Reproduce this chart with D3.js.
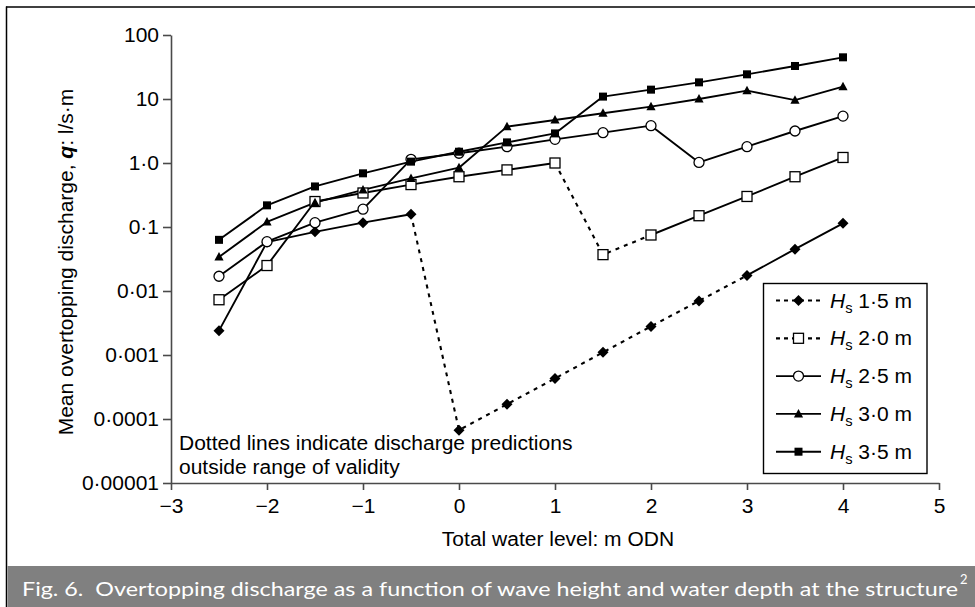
<!DOCTYPE html>
<html><head><meta charset="utf-8">
<script src="https://cdn.jsdelivr.net/npm/d3@7"></script>
<style>body{margin:0;background:#fff} svg{display:block}</style>
</head><body>
<svg id="c" width="975" height="607"></svg>
<script>
// ---- data ----
const levels = [-2.5,-2,-1.5,-1,-0.5,0,0.5,1,1.5,2,2.5,3,3.5,4];
const hs15 = [0.0024,0.058,0.084,0.117,0.158,0.000067,0.00017,0.00043,0.0011,0.0028,0.007,0.0175,0.045,0.114];
const hs20 = [0.0073,0.025,0.25,0.34,0.46,0.61,0.78,1.0,0.037,0.075,0.15,0.30,0.61,1.22];
const hs25 = [0.017,0.059,0.117,0.19,1.14,1.42,1.8,2.34,2.98,3.83,1.02,1.8,3.16,5.4];
const hs30 = [0.034,0.12,0.24,0.38,0.575,0.845,3.7,4.7,6.0,7.6,10.0,13.5,9.6,15.6];
const hs35 = [0.063,0.218,0.43,0.69,1.05,1.5,2.1,2.9,10.9,14.0,18.2,24.3,32.8,44.8];
const seriesLabels = ["1·5 m","2·0 m","2·5 m","3·0 m","3·5 m"];
// index range (in levels) of each series that lies outside the range of validity
const outsideRange = [[4,11],[7,9],null,null,null];
const xTicks = [-3,-2,-1,0,1,2,3,4,5];
const yTicks = [1e-5,1e-4,1e-3,1e-2,1e-1,1,10,100];
const yTickLabels = ["0·00001","0·0001","0·001","0·01","0·1","1·0","10","100"];
const xTitle = "Total water level: m ODN";
const noteLines = ["Dotted lines indicate discharge predictions","outside range of validity"];
const captionText = "Fig. 6.  Overtopping discharge as a function of wave height and water depth at the structure";

// ---- drawing ----
const svg = d3.select("#c");
const FONT = "'Liberation Sans', Arial, sans-serif";
const FS = 20;
const x = d3.scaleLinear().domain([-3,5]).range([171,939]);
const y = d3.scaleLog().domain([1e-5,100]).range([483,35]);
const axisColor = "#4a4a4a";

// frame
svg.append("line").attr("x1",6).attr("x2",975).attr("y1",7).attr("y2",7).attr("stroke","#000").attr("stroke-width",1.5);
svg.append("line").attr("x1",6.5).attr("x2",6.5).attr("y1",6.5).attr("y2",607).attr("stroke","#000").attr("stroke-width",1.5);

// caption band
svg.append("rect").attr("x",7.5).attr("y",566).attr("width",968).attr("height",41).attr("fill","#808080");
const cap = svg.append("text").attr("x",22).attr("y",596).attr("fill","#fff")
  .attr("font-family","Lato, 'Open Sans', sans-serif").attr("font-size",20)
  .attr("xml:space","preserve").style("white-space","pre").text(captionText);
cap.attr("textLength",936).attr("lengthAdjust","spacingAndGlyphs");
svg.append("text").attr("x",960).attr("y",584).attr("fill","#fff")
  .attr("font-family","Lato, 'Open Sans', sans-serif").attr("font-size",13).text("2");

// axes
const gx = svg.append("g").attr("transform","translate(0,483)")
  .call(d3.axisBottom(x).tickValues(xTicks).tickSize(7).tickSizeOuter(0).tickPadding(9).tickFormat(d3.format("d")));
const gy = svg.append("g").attr("transform","translate(171,0)")
  .call(d3.axisLeft(y).tickValues(yTicks).tickSize(8).tickSizeOuter(0).tickPadding(4).tickFormat((d,i)=>yTickLabels[i]));
[gx,gy].forEach(g=>{
  g.attr("font-family",FONT).attr("font-size",FS);
  g.select(".domain").attr("stroke",axisColor).attr("stroke-width",1.6);
  g.selectAll(".tick line").attr("stroke",axisColor).attr("stroke-width",1.6);
  g.selectAll(".tick text").attr("fill","#000").classed("st",true);
});

// series
const data = [hs15,hs20,hs25,hs30,hs35];
const symbols = ["diamond","openSquare","circle","triangle","square"];
const line = d3.line().x(d=>x(d[0])).y(d=>y(d[1]));
function markerPath(g, type){
  if(type==="diamond") g.append("path").attr("d","M0,-5.5L5.5,0L0,5.5L-5.5,0Z").attr("fill","#000");
  else if(type==="openSquare") g.append("rect").attr("x",-5).attr("y",-5).attr("width",10).attr("height",10).attr("fill","#fff").attr("stroke","#000").attr("stroke-width",1.3);
  else if(type==="circle") g.append("circle").attr("r",5).attr("fill","#fff").attr("stroke","#000").attr("stroke-width",1.3);
  else if(type==="triangle") g.append("path").attr("d","M0,-5L4.6,3.5L-4.6,3.5Z").attr("fill","#000");
  else g.append("rect").attr("x",-4).attr("y",-4).attr("width",8).attr("height",8).attr("fill","#000");
}
const linesG = svg.append("g");
const marksG = svg.append("g");
data.forEach((vals,si)=>{
  const pts = levels.map((l,i)=>[l,vals[i]]);
  const r = outsideRange[si];
  let parts;
  if(r){
    parts = [{p:pts.slice(0,r[0]+1),dot:false},{p:pts.slice(r[0],r[1]+1),dot:true},{p:pts.slice(r[1]),dot:false}];
  } else parts = [{p:pts,dot:false}];
  parts.forEach(pt=>{
    if(pt.p.length<2) return;
    const pth = linesG.append("path").attr("d",line(pt.p)).attr("fill","none").attr("stroke","#000")
      .attr("stroke-width",pt.dot?2.1:1.9).attr("stroke-linejoin","round");
    if(pt.dot) pth.attr("stroke-dasharray","4,5");
  });
  pts.forEach(d=>{
    const g = marksG.append("g").attr("transform",`translate(${x(d[0])},${y(d[1])})`);
    markerPath(g, symbols[si]);
  });
});

// legend
const lg = svg.append("g");
lg.append("rect").attr("x",763.5).attr("y",283.5).attr("width",163.5).attr("height",190)
  .attr("fill","#fff").attr("stroke","#000").attr("stroke-width",1.4);
seriesLabels.forEach((lab,i)=>{
  const cy = 300.5 + i*37.8;
  const dotted = !!outsideRange[i];
  const l = lg.append("line").attr("x1",776).attr("x2",821).attr("y1",cy).attr("y2",cy)
    .attr("stroke","#000").attr("stroke-width",dotted?2.2:1.9);
  if(dotted) l.attr("stroke-dasharray","4,4");
  markerPath(lg.append("g").attr("transform",`translate(798.5,${cy})`), symbols[i]);
  const t = lg.append("text").attr("x",830).attr("y",cy+7).attr("font-family",FONT).attr("font-size",FS).attr("fill","#000").classed("st",true);
  t.append("tspan").attr("font-style","italic").text("H");
  t.append("tspan").attr("font-size",14).attr("dy",5).text("s");
  t.append("tspan").attr("dy",-5).text(" "+lab);
});

// note
noteLines.forEach((s,i)=>{
  svg.append("text").attr("x",179).attr("y",450+i*24).attr("font-family",FONT).attr("font-size",FS)
    .attr("fill","#000").classed("st",true).text(s);
});

// axis titles
svg.append("text").attr("x",558).attr("y",546).attr("text-anchor","middle").attr("font-family",FONT)
  .attr("font-size",FS).attr("fill","#000").classed("st",true).text(xTitle);
const yt = svg.append("text").attr("transform","translate(73,262) rotate(-90)").attr("text-anchor","middle")
  .attr("font-family",FONT).attr("font-size",FS).attr("fill","#000").classed("st",true);
yt.append("tspan").text("Mean overtopping discharge, ");
yt.append("tspan").attr("font-weight","bold").attr("font-style","italic").text("q");
yt.append("tspan").text(": l/s·m");

// slightly widen chart text to match the reference's wide type
svg.selectAll("text.st").each(function(){
  const len = this.getComputedTextLength();
  d3.select(this).attr("textLength",len*1.05).attr("lengthAdjust","spacingAndGlyphs");
});
</script>
</body></html>
